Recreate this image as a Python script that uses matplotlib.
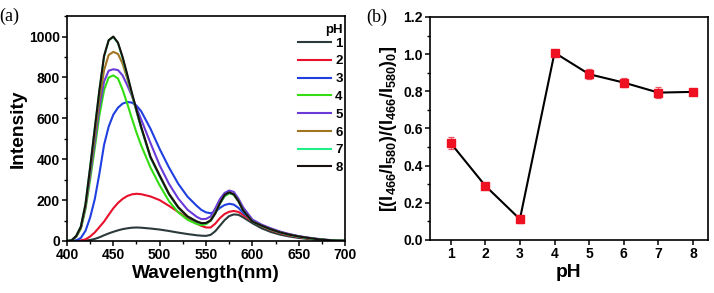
import numpy as np
import matplotlib
matplotlib.use('Agg')
import matplotlib.pyplot as plt
from matplotlib.ticker import MultipleLocator, FormatStrFormatter

plt.rcParams['font.family'] = ['Liberation Sans', 'DejaVu Sans']
plt.rcParams['font.weight'] = 'bold'
plt.rcParams['mathtext.fontset'] = 'custom'
plt.rcParams['mathtext.rm'] = 'Liberation Sans:bold'
plt.rcParams['mathtext.bf'] = 'Liberation Sans:bold'
plt.rcParams['mathtext.it'] = 'Liberation Sans:bold'

# Emission spectra (panel a)
wavelength = [400, 405, 410, 415, 420, 425, 430, 435, 440, 445, 450, 455, 460, 465, 470,
              475, 480, 490, 500, 510, 520, 530, 540, 545, 550, 555, 560, 565, 570, 575,
              580, 585, 590, 600, 610, 620, 630, 640, 650, 660, 670, 680, 690, 700]

ph1 = [0, 0, 0, 0, 2, 5, 10, 18, 28, 37, 45, 52, 58, 62, 65,
       66, 65, 61, 56, 49, 41, 34, 28, 26, 25, 30, 48, 75, 102, 122,
       130, 128, 116, 87, 62, 44, 31, 22, 15, 10, 6, 3, 1, 0]
ph2 = [0, 0, 1, 3, 8, 22, 42, 68, 95, 128, 160, 186, 206, 220, 228,
       231, 229, 218, 200, 172, 142, 112, 85, 74, 66, 66, 85, 112, 132, 143,
       147, 142, 128, 97, 72, 53, 38, 27, 19, 12, 7, 4, 2, 0]
ph3 = [0, 1, 3, 15, 50, 115, 205, 330, 470, 560, 618, 652, 672, 680, 677,
       662, 635, 550, 450, 360, 280, 217, 172, 152, 140, 136, 142, 162, 176, 182,
       178, 162, 138, 100, 76, 58, 43, 31, 22, 15, 9, 5, 2, 1]
ph4 = [0, 3, 20, 60, 155, 300, 455, 615, 738, 800, 810, 795, 740, 672, 600,
       530, 468, 360, 272, 195, 140, 104, 83, 78, 82, 100, 140, 185, 218, 233,
       226, 195, 152, 98, 75, 57, 42, 31, 22, 15, 9, 5, 2, 1]
ph5 = [0, 3, 22, 65, 165, 320, 485, 652, 780, 833, 840, 836, 810, 762, 710,
       652, 595, 480, 370, 280, 208, 153, 118, 107, 108, 120, 160, 205, 235, 247,
       240, 207, 165, 105, 80, 62, 46, 34, 24, 17, 11, 6, 3, 1]
ph6 = [0, 3, 23, 65, 170, 340, 515, 690, 835, 910, 925, 915, 868, 795, 714,
       635, 556, 412, 320, 232, 166, 121, 96, 88, 88, 102, 138, 184, 222, 236,
       228, 195, 150, 96, 75, 57, 42, 31, 22, 15, 9, 5, 2, 1]
ph7 = [0, 3, 25, 72, 182, 362, 552, 738, 902, 982, 998, 968, 895, 810, 720,
       635, 553, 408, 316, 228, 163, 119, 94, 86, 87, 100, 135, 183, 222, 236,
       227, 194, 149, 95, 74, 56, 41, 30, 21, 14, 9, 5, 2, 1]
ph8 = [0, 3, 25, 70, 180, 360, 550, 738, 905, 982, 1000, 970, 900, 815, 725,
       640, 558, 412, 320, 230, 165, 120, 95, 87, 88, 100, 135, 185, 225, 238,
       228, 195, 150, 95, 75, 57, 42, 31, 22, 15, 9, 5, 2, 1]

spectra = [ph1, ph2, ph3, ph4, ph5, ph6, ph7, ph8]
ph_labels = ['1', '2', '3', '4', '5', '6', '7', '8']
colors = ['#2b3a3a', '#e8102a', '#1f3fe0', '#33dd11', '#6a3bd8', '#a07420', '#22ee88', '#1a1010']

# Ratio vs pH (panel b)
ph_values = [1, 2, 3, 4, 5, 6, 7, 8]
ratio = [0.522, 0.292, 0.112, 1.008, 0.892, 0.847, 0.793, 0.797]
ratio_err = [0.03, 0.015, 0.02, 0.012, 0.028, 0.022, 0.03, 0.018]

fig = plt.figure(figsize=(7.14, 2.93), dpi=100)
ax1 = fig.add_axes([0.0938, 0.1775, 0.3895, 0.7675])
ax2 = fig.add_axes([0.602, 0.181, 0.3896, 0.761])

tick_fs = 10
label_fs = 13.8

# Panel a
for vals, lab, col in zip(spectra, ph_labels, colors):
  ax1.plot(wavelength, vals, color=col, lw=1.5, label=lab, solid_joinstyle='round')
ax1.set_xlim(400, 700)
ax1.set_ylim(0, 1100)
ax1.xaxis.set_major_locator(MultipleLocator(50))
ax1.xaxis.set_minor_locator(MultipleLocator(25))
ax1.yaxis.set_major_locator(MultipleLocator(200))
ax1.yaxis.set_minor_locator(MultipleLocator(100))
ax1.set_xlabel('Wavelength(nm)', fontsize=label_fs, fontweight='bold', labelpad=2)
ax1.set_ylabel('Intensity', fontsize=label_fs, fontweight='bold', labelpad=2)
leg = ax1.legend(title='pH', frameon=False, fontsize=9.5, title_fontproperties={'weight': 'bold', 'size': 9.5},
                 loc='upper right', bbox_to_anchor=(1.02, 1.0), handlelength=2.5, handletextpad=0.3,
                 labelspacing=0.42, borderaxespad=0.2)
leg._legend_box.align = 'right'
leg._legend_box.sep = 1
ax1.text(-0.245, 1.0, '(a)', transform=ax1.transAxes, fontsize=13, fontweight='normal',
         family='Liberation Serif', va='center')

# Panel b
ax2.errorbar(ph_values, ratio, yerr=ratio_err, color='black', lw=1.5, marker='s', ms=5.5,
             mfc='#ee1122', mec='#ee1122', ecolor='#ee5566', elinewidth=0.9, capsize=2.5, capthick=0.9)
ax2.set_xlim(0.4, 8.43)
ax2.set_ylim(0, 1.2)
ax2.xaxis.set_major_locator(MultipleLocator(1))
ax2.yaxis.set_major_locator(MultipleLocator(0.2))
ax2.yaxis.set_minor_locator(MultipleLocator(0.1))
ax2.yaxis.set_major_formatter(FormatStrFormatter('%.1f'))
ax2.set_xlabel('pH', fontsize=label_fs, fontweight='bold', labelpad=2)
ax2.set_ylabel(r'$\mathbf{[(I_{466}/I_{580})/(I_{466}/I_{580})_0]}$', fontsize=13, labelpad=3)
ax2.text(-0.23, 1.0, '(b)', transform=ax2.transAxes, fontsize=13, fontweight='normal',
         family='Liberation Serif', va='center')

for ax in (ax1, ax2):
  for s in ax.spines.values():
    s.set_linewidth(1.2)
  ax.tick_params(which='major', direction='out', length=3.5, width=1.1, labelsize=tick_fs, pad=1.5)
  ax.tick_params(which='minor', direction='out', length=2, width=1)
  for t in ax.get_xticklabels() + ax.get_yticklabels():
    t.set_fontweight('bold')

fig.savefig('out.png', dpi=100)
